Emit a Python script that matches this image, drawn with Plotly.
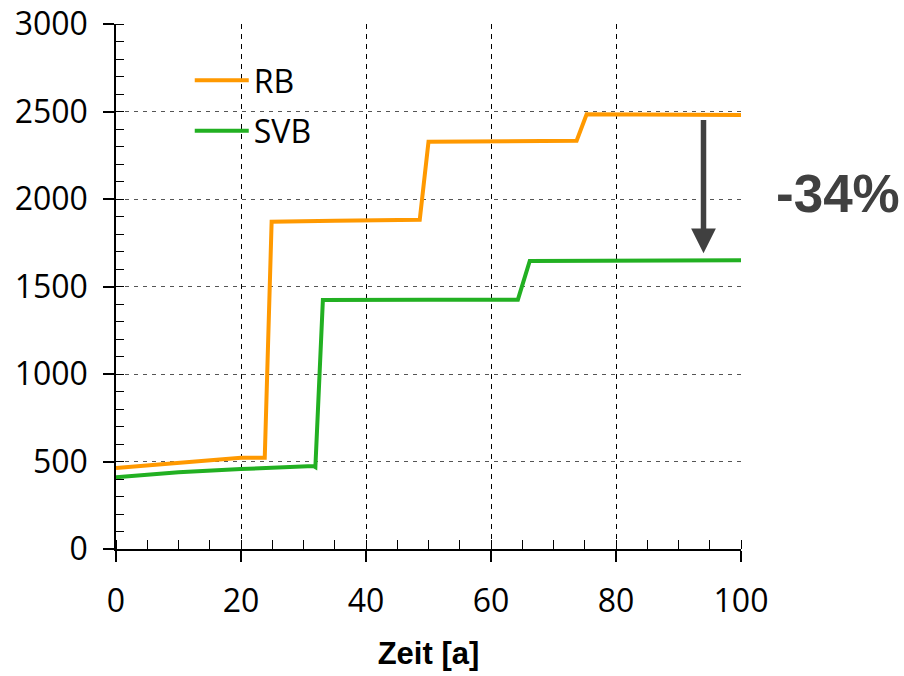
import plotly.graph_objects as go

# Data
years_rb = [0, 10, 20, 23.8, 24.9, 35, 48.6, 50.0, 60, 73.7, 75.3, 100]
rb = [463, 494, 522, 522, 1870, 1876, 1882, 2327, 2330, 2333, 2484, 2480]

years_svb = [0, 10, 20, 31.6, 31.9, 33.1, 50, 64.3, 66.2, 100]
svb = [410, 438, 457, 474, 468, 1423, 1425, 1425, 1646, 1650]

arrow_x = 94
arrow_from = 2460
arrow_to = 1690
reduction_label = "-34%"

x_ticks = [0, 20, 40, 60, 80, 100]
y_ticks = [0, 500, 1000, 1500, 2000, 2500, 3000]

FONT = "Open Sans"

fig = go.Figure()
fig.add_trace(go.Scatter(x=years_rb, y=rb, mode="lines", name="RB",
                         line=dict(color="#FF9900", width=4), legendgroup="a"))
fig.add_trace(go.Scatter(x=years_svb, y=svb, mode="lines", name="SVB",
                         line=dict(color="#22B022", width=4), legendgroup="b"))

fig.add_annotation(x=arrow_x, y=arrow_to, ax=arrow_x, ay=arrow_from,
                   xref="x", yref="y", axref="x", ayref="y",
                   showarrow=True, text="", arrowhead=2, arrowsize=0.9,
                   arrowwidth=5.5, arrowcolor="#404040")
fig.add_annotation(x=1.155, y=2034, xref="paper", yref="y", text=reduction_label,
                   showarrow=False, xanchor="center", yanchor="middle",
                   font=dict(family="Liberation Sans", size=53, color="#404040", weight="bold"))

fig.update_layout(
    width=904, height=676,
    margin=dict(l=116, r=163, t=24, b=127, autoexpand=False),
    paper_bgcolor="white", plot_bgcolor="white",
    font=dict(family=FONT, size=32, color="black"),
    legend=dict(x=0.118, y=0.945, xanchor="left", yanchor="top",
                bgcolor="rgba(0,0,0,0)", tracegroupgap=6, itemwidth=54,
                font=dict(family=FONT, size=32)),
    xaxis=dict(range=[0, 100], tickvals=x_ticks, ticks="outside", ticklen=11,
               tickwidth=1.5, tickcolor="black", showline=True, linecolor="black",
               linewidth=1.5, zeroline=False, showgrid=True, gridcolor="black",
               gridwidth=1, griddash="5px,5px", ticklabelstandoff=12, automargin=False,
               minor=dict(ticks="inside", dtick=5, ticklen=9, tickcolor="black",
                          tickwidth=1, showgrid=False),
               title=dict(text="Zeit [a]",
                          font=dict(family="Liberation Sans", size=31, weight="bold"),
                          standoff=22)),
    yaxis=dict(range=[0, 3000], tickvals=y_ticks, ticks="outside", ticklen=11,
               tickwidth=1.5, tickcolor="black", showline=True, linecolor="black",
               linewidth=1.5, zeroline=False, showgrid=True, gridcolor="#555555",
               gridwidth=1, griddash="4px,5px", ticklabelstandoff=9, automargin=False,
               minor=dict(ticks="inside", dtick=100, ticklen=8, tickcolor="black",
                          tickwidth=1, showgrid=False)),
    xaxis2=dict(range=[0, 100], overlaying="x", tickvals=x_ticks, ticks="inside",
                ticklen=10, tickwidth=1.5, tickcolor="black", showticklabels=False,
                showgrid=False, zeroline=False, showline=False, side="bottom",
                automargin=False),
    yaxis2=dict(range=[0, 3000], overlaying="y", tickvals=y_ticks, ticks="inside",
                ticklen=12, tickwidth=1.5, tickcolor="black", showticklabels=False,
                showgrid=False, zeroline=False, showline=False, side="left",
                automargin=False),
)

fig.write_html("out.html")
